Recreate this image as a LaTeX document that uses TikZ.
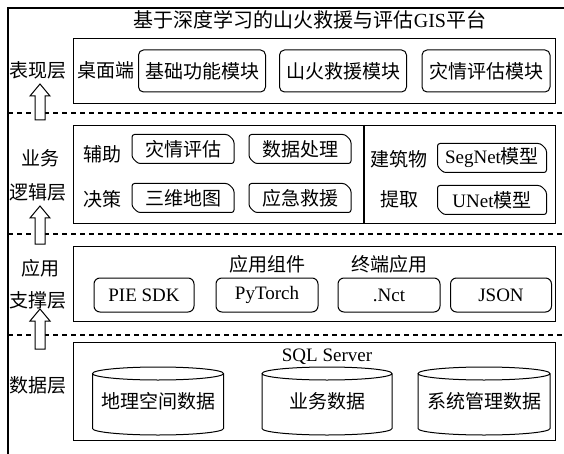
\documentclass[tikz,border=0pt]{standalone}
\usepackage{fontspec}
\setmainfont{Liberation Serif}
\newfontfamily\cjk{Noto Sans CJK SC}
\usetikzlibrary{calc}
\newcommand\chamf[1]{\draw[rounded corners=2.5pt] ($(#1.north east)+(-6,0)$) -- ($(#1.north east)+(0,-6)$) -- (#1.south east) -- ($(#1.south west)+(6,0)$) -- ($(#1.south west)+(0,6)$) -- (#1.north west) -- cycle;}
\newcommand\hollowup[3]{\draw[fill=white, line width=1pt] (#1-5,-#2) -- (#1-5,-#3-12) -- (#1-10,-#3-12) -- (#1,-#3) -- (#1+10,-#3-12) -- (#1+5,-#3-12) -- (#1+5,-#2) -- cycle;}
\begin{document}
\begin{tikzpicture}[x=1pt,y=1pt,line width=1pt,
  txt/.style={font=\fontsize{19}{22}\selectfont\cjk, inner sep=0pt},
  lat/.style={font=\fontsize{19}{22}\selectfont, inner sep=0pt},
  layer/.style={draw, line width=1.2pt, anchor=north west, inner sep=0pt},
  modbox/.style={draw, rounded corners=5pt, minimum height=42pt, inner sep=0pt, font=\fontsize{19}{22}\selectfont\cjk},
  midbox/.style={minimum height=28pt, inner sep=0pt, font=\fontsize{19}{22}\selectfont\cjk},
  appbox/.style={draw, rounded corners=6pt, minimum height=34pt, inner sep=0pt, font=\fontsize{19}{22}\selectfont},
  dbbox/.style={minimum height=54pt, inner sep=0pt, font=\fontsize{19}{22}\selectfont\cjk},
  sep/.style={dashed, dash pattern=on 5pt off 4pt, line width=1.2pt}
]
\useasboundingbox (0,0) rectangle (564,-454);
% outer frame
\coordinate (fbl) at (8,-454);
\coordinate (ftl) at (8,-8);
\coordinate (ftr) at (564,-8);
\draw[line width=1.2pt] (fbl) -- (ftl) -- (ftr);
\node[txt, font=\fontsize{20}{22}\selectfont\cjk] (title) at (310,-20) {基于深度学习的山火救援与评估{\rmfamily GIS}平台};
% separators
\coordinate (s1a) at (8,-113); \coordinate (s1b) at (564,-113);
\coordinate (s2a) at (8,-234); \coordinate (s2b) at (564,-234);
\coordinate (s3a) at (8,-335); \coordinate (s3b) at (564,-335);
\draw[sep] (s1a) -- (s1b);
\draw[sep] (s2a) -- (s2b);
\draw[sep] (s3a) -- (s3b);
% layer boxes
\node[layer, minimum width=482pt, minimum height=65pt] (L1) at (73,-38) {};
\node[layer, minimum width=482pt, minimum height=98pt] (L2) at (73,-125) {};
\node[layer, minimum width=482pt, minimum height=75pt] (L3) at (73,-246) {};
\node[layer, minimum width=482pt, minimum height=98pt] (L4) at (73,-342) {};
% left labels
\node[txt] (lab1) at (38,-70) {表现层};
\node[txt] (lab2a) at (40,-158) {业务};
\node[txt] (lab2b) at (38,-192) {逻辑层};
\node[txt] (lab3a) at (40,-268) {应用};
\node[txt] (lab3b) at (38,-300) {支撑层};
\node[txt] (lab4) at (38,-385) {数据层};
\hollowup{40}{120}{84}
\hollowup{40}{244}{206}
\hollowup{40}{349}{309}
% layer 1
\node[txt] (desk) at (106,-70) {桌面端};
\node[modbox, minimum width=127pt] (m1) at (202,-71) {基础功能模块};
\node[modbox, minimum width=127pt] (m2) at (343,-71) {山火救援模块};
\node[modbox, minimum width=128pt] (m3) at (486,-71) {灾情评估模块};
% layer 2
\coordinate (dv1) at (364,-125);
\coordinate (dv2) at (364,-223);
\draw[line width=1.2pt] (dv1) -- (dv2);
\node[txt] (fz) at (102,-154) {辅助};
\node[txt] (jc) at (102,-199) {决策};
\node[midbox, minimum width=101pt] (b1) at (183,-149) {灾情评估};
\node[midbox, minimum width=101pt] (b2) at (300,-149) {数据处理};
\node[midbox, minimum width=101pt] (b3) at (183,-198) {三维地图};
\node[midbox, minimum width=101pt] (b4) at (300,-198) {应急救援};
\chamf{b1}\chamf{b2}\chamf{b3}\chamf{b4}
\node[txt] (jzw) at (399,-159) {建筑物};
\node[txt] (tq) at (399,-199) {提取};
\node[midbox, minimum width=108pt] (b5) at (492,-158) {{\rmfamily SegNet}模型};
\node[midbox, minimum width=108pt] (b6) at (492,-200) {{\rmfamily UNet}模型};
\chamf{b5}\chamf{b6}
% layer 3
\node[txt] (yyzj) at (267,-264) {应用组件};
\node[txt] (zdyy) at (389,-264) {终端应用};
\node[appbox, minimum width=100pt] (p1) at (144,-295) {PIE SDK};
\node[appbox, minimum width=102pt] (p2) at (267,-295) {PyTorch};
\node[appbox, minimum width=102pt] (p3) at (389,-295) {.Nct};
\node[appbox, minimum width=101pt] (p4) at (501,-295) {JSON};
% layer 4
\node[lat] (sql) at (327,-357) {SQL Server};
\node[dbbox, minimum width=130pt] (d1) at (158,-401) {地理空间数据};
\node[dbbox, minimum width=129pt] (d2) at (327,-401) {业务数据};
\node[dbbox, minimum width=131pt] (d3) at (484,-401) {系统管理数据};
\foreach \d in {d1,d2,d3}{
  \draw let \p1=(\d.north west), \p2=(\d.north east), \n1={(\x2-\x1)/2} in
    (\d.north west) -- (\d.south west) arc[start angle=180, end angle=360, x radius=\n1, y radius=6.5pt]
    -- (\d.north east) arc[start angle=0, end angle=180, x radius=\n1, y radius=6.5pt]
    arc[start angle=180, end angle=360, x radius=\n1, y radius=6.5pt];
}
\end{tikzpicture}
\end{document}
